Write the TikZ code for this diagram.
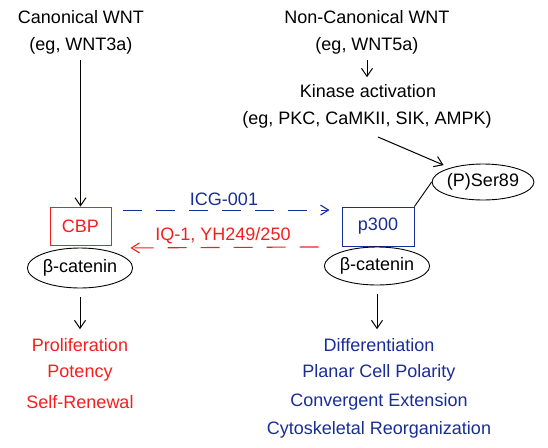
\documentclass[tikz,border=0pt]{standalone}
\usepackage{fontspec}
\setmainfont{Liberation Sans}
\usetikzlibrary{arrows.meta,shapes.geometric,calc}
\definecolor{myred}{RGB}{245,30,30}
\definecolor{myblue}{RGB}{25,45,150}
\begin{document}
\begin{tikzpicture}[x=1pt,y=-1pt,
  txt/.style={font=\fontsize{18}{21}\selectfont, inner sep=0pt},
  arr/.style={-{Straight Barb[length=8pt,width=11pt]}, line width=1pt},
  dasharr/.style={-{Straight Barb[length=8pt,width=10pt]}, line width=1.1pt, dash pattern=on 19pt off 14pt},
  boxnode/.style={draw, rectangle, line width=0.9pt, inner sep=0pt, font=\fontsize{18}{21}\selectfont},
  ellnode/.style={draw, ellipse, line width=0.9pt, inner sep=0pt, font=\fontsize{18}{21}\selectfont}]
\useasboundingbox (0,0) rectangle (548,447);
% top texts
\node[txt] (can)  at (81,17)  {Canonical WNT};
\node[txt] (can2) at (81,46)  {(eg, WNT3a)};
\node[txt] (nc)   at (367,17) {Non-Canonical WNT};
\node[txt] (nc2)  at (367,46) {(eg, WNT5a)};
\node[txt] (kin)  at (368,91) {Kinase activation};
\node[txt] (kin2) at (367,120) {(eg, PKC, CaMKII, SIK, AMPK)};
% boxes and ellipses
\node[boxnode, draw=myred, text=myred, minimum width=61pt, minimum height=38pt] (cbp) at (80.5,226) {CBP};
\node[ellnode, minimum width=91pt, minimum height=40pt] (bcat1) at (80,268) {β-catenin};
\node[boxnode, draw=myblue, text=myblue, minimum width=72pt, minimum height=39pt] (p300) at (378,226.5) {p300};
\node[ellnode, minimum width=91pt, minimum height=38pt] (bcat2) at (377,266) {β-catenin};
\node[ellnode, minimum width=82pt, minimum height=36pt] (ser) at (483,182) {(P)Ser89};
% outputs
\node[txt, text=myred] (prolif) at (80,345) {Proliferation};
\node[txt, text=myred] (pot)    at (80,373) {Potency};
\node[txt, text=myred] (self)   at (80,402) {Self-Renewal};
\node[txt, text=myblue] (diff)  at (379,345) {Differentiation};
\node[txt, text=myblue] (pcp)   at (379,373) {Planar Cell Polarity};
\node[txt, text=myblue] (conv)  at (379,402) {Convergent Extension};
\node[txt, text=myblue] (cyto)  at (379,430) {Cytoskeletal Reorganization};
% labels of dashed arrows
\node[txt, text=myblue] (icg) at (224,199) {ICG-001};
\node[txt, text=myred]  (iq)  at (223,236) {IQ-1, YH249/250};
% connectors
\draw[arr, shorten <=5pt] (cbp |- can2.south) -- (cbp.north);
\draw[arr, shorten <=5pt, shorten >=7pt] (nc2.south) -- (nc2.south |- kin.north);
\coordinate (ks) at (378,137);
\draw[arr, shorten >=7pt] (ks) -- (ser);
\draw[line width=0.9pt] (p300.north east) -- (ser.west);
\draw[arr, shorten <=9pt, shorten >=9pt] (bcat1.south) -- (bcat1.south |- prolif.north);
\draw[arr, shorten <=9pt, shorten >=9pt] (bcat2.south) -- (bcat2.south |- diff.north);
\draw[dasharr, myblue] ($(cbp.north east)+(12,3.5)$) -- ($(p300.north west)+(-12,3.5)$);
\draw[dasharr, myred] ($(p300.south west)+(-23,0.5)$) -- ($(cbp.south east)+(19,2.5)$);
\end{tikzpicture}
\end{document}
